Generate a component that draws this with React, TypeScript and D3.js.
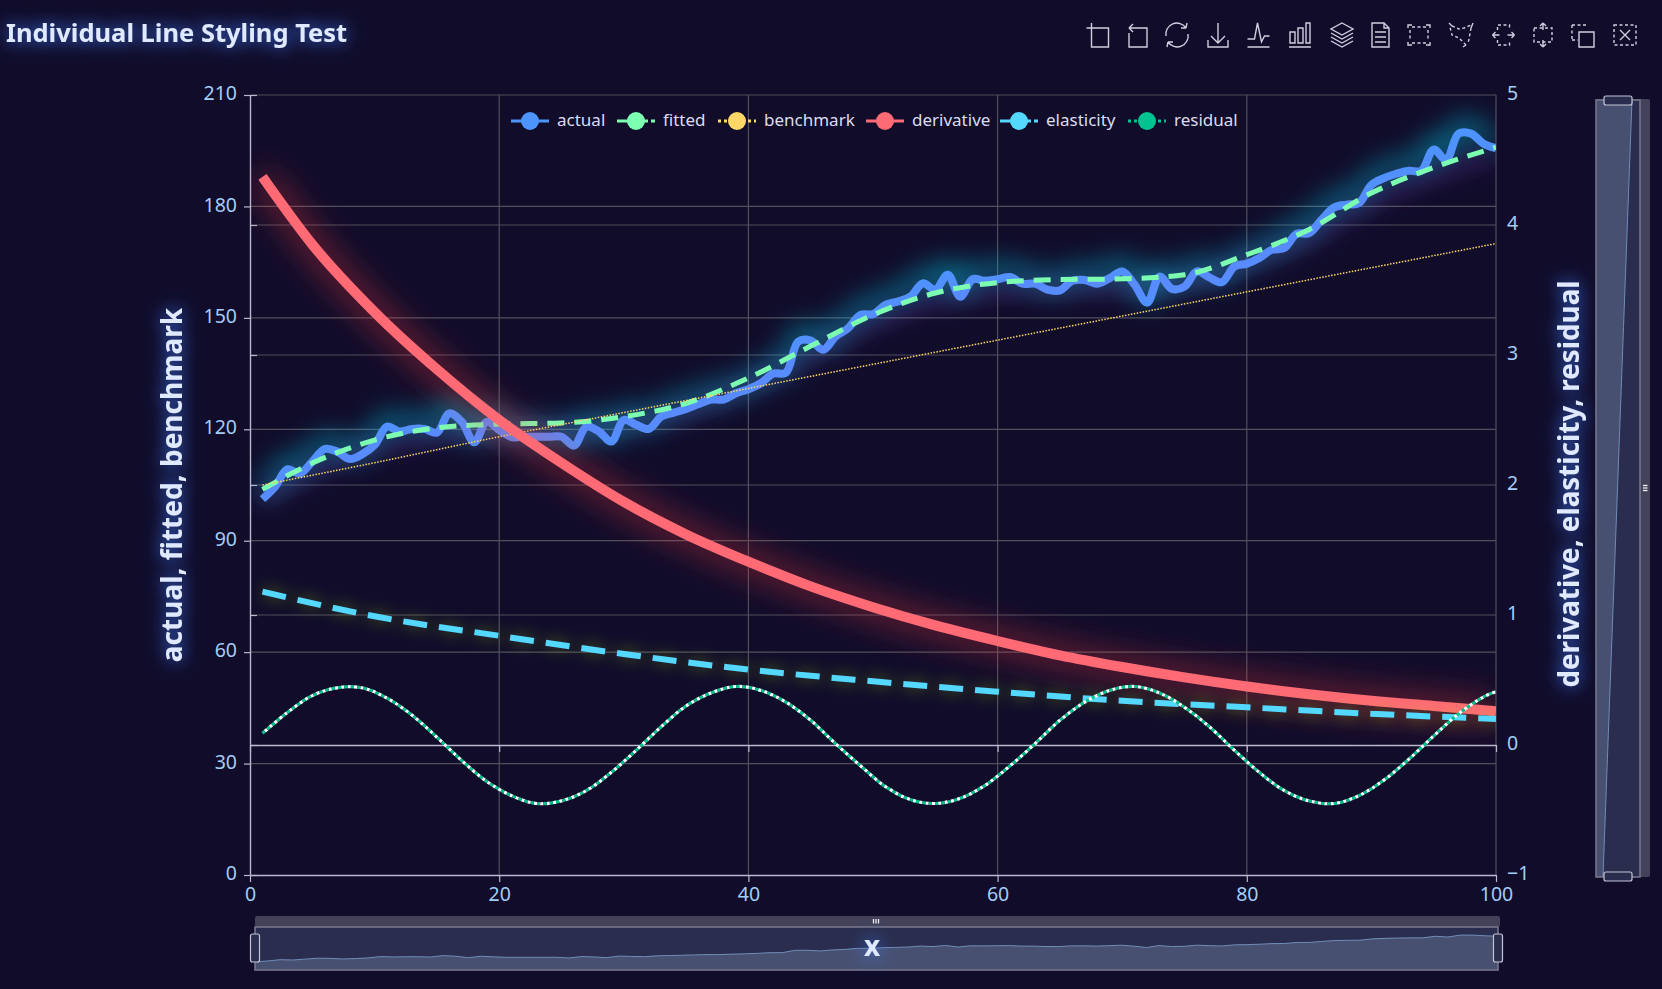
import * as d3 from 'd3';
import React, { useEffect, useRef } from 'react';

const seriesNames = ['actual', 'fitted', 'benchmark', 'derivative', 'elasticity', 'residual'];
const seriesColors = ['#4d94ff', '#7dffb2', '#ffd766', '#ff6b75', '#55d8fe', '#00c48f'];

const actualValues = [
	101.2, 104.5, 109.2, 108.1, 111.3, 114.7, 114, 112, 113.3, 115.8, 120.7, 119.4, 120.1, 120.1, 119.1, 124.3, 122,
	116.5, 122, 119.8, 117.9, 118, 118, 118, 118, 115.6, 120.7, 119.4, 116.7, 122.5, 121.2, 120.1, 123.4, 124.5, 125.5,
	126.8, 128, 128, 129.7, 130.8, 132.4, 135, 135.2, 143.6, 143.9, 141.4, 145, 147.2, 150.8, 151, 153.5, 154.4, 155.7,
	159.3, 157.6, 161.6, 155.7, 160.4, 160, 160.4, 161, 159.2, 159.2, 157.6, 157.4, 160, 160.2, 159.2, 160.7, 162.5,
	158.9, 154.1, 161.1, 157.8, 158.4, 162.5, 160.9, 159.6, 163.8, 164.6, 166.1, 168.3, 168.8, 172.6, 172.8, 176.4,
	179.7, 180.5, 180.9, 185.8, 187.6, 188.8, 189.6, 189.6, 195.3, 192.6, 199.6, 199.6, 196.9, 195.7,
];

const fittedX = [1, 5, 10, 15, 20, 25, 30, 35, 40, 45, 50, 55, 60, 65, 70, 75, 80, 85, 90, 95, 100];
const fittedValues = [
	103.8, 110.9, 117.1, 120.4, 121.4, 121.7, 123.4, 127, 133.8, 142.4, 150.8, 156.7, 159.5, 160.3, 160.5, 161.6, 167,
	173.8, 183.6, 190.5, 195.9,
];

const benchmarkX = [1, 10, 20, 30, 40, 50, 60, 70, 80, 90, 100];
const benchmarkValues = [105, 111, 118, 124.5, 131, 137.5, 144, 150.5, 157, 163.5, 170];

const derivativeX = [1, 5, 10, 15, 20, 25, 30, 35, 40, 45, 50, 55, 60, 65, 70, 75, 80, 85, 90, 95, 100];
const derivativeValues = [
	4.37, 3.85, 3.33, 2.89, 2.5, 2.17, 1.87, 1.62, 1.41, 1.22, 1.06, 0.92, 0.8, 0.69, 0.6, 0.52, 0.45, 0.39, 0.34, 0.3,
	0.26,
];

const elasticityX = [1, 10, 20, 30, 40, 50, 60, 70, 80, 90, 100];
const elasticityValues = [1.18, 0.99, 0.84, 0.7, 0.58, 0.49, 0.41, 0.34, 0.29, 0.24, 0.2];

const residualX = [
	1, 3, 5, 7, 9, 11, 13, 15, 17, 19, 21, 23, 25, 27, 29, 31, 33, 35, 37, 39, 41, 43, 45, 47, 49, 51, 53, 55, 57, 59, 61,
	63, 65, 67, 69, 71, 73, 75, 77, 79, 81, 83, 85, 87, 89, 91, 93, 95, 97, 99, 100,
];
const residualValues = [
	0.09, 0.25, 0.38, 0.44, 0.44, 0.36, 0.23, 0.06, -0.12, -0.28, -0.39, -0.45, -0.43, -0.35, -0.21, -0.04, 0.14, 0.3,
	0.4, 0.45, 0.42, 0.33, 0.19, 0.01, -0.16, -0.32, -0.42, -0.45, -0.41, -0.31, -0.16, 0.01, 0.19, 0.33, 0.42, 0.45, 0.4,
	0.29, 0.14, -0.04, -0.21, -0.35, -0.43, -0.45, -0.39, -0.27, -0.11, 0.07, 0.24, 0.37, 0.41,
];

const xTicks = [0, 20, 40, 60, 80, 100];
const leftTicks = [0, 30, 60, 90, 120, 150, 180, 210];
const rightTicks = [-1, 0, 1, 2, 3, 4, 5];

const legendStarts = [511, 617, 718, 866, 1000, 1128];

const toolIconX = [1098.5, 1138, 1177, 1218, 1258.5, 1300, 1342, 1380, 1419, 1461, 1503.5, 1543, 1583, 1625];
const toolIcons: [string, string?][] = [
	['M-12 -7H10V12H-7V-12'],
	['M-9 -2V12H9V-7H-9M-9 -7L-5 -11M-9 -7L-5 -3'],
	['M-11 1A11 11 0 0 1 9 -7M9 -7L10 -12M9 -7L4 -7M11 -1A11 11 0 0 1 -9 7M-9 7L-10 12M-9 7L-4 7'],
	['M0 -12V8M-7 1L0 8L7 1M-10 5V12H10V5'],
	['M-11 4H-4L-1 -12L3 7L6 1H11M-11 12H11'],
	['M-11 12H11M-10 -3H-5V8H-10ZM-2 -7H3V8H-2ZM6 -12H10V8H6Z'],
	['M0 -12L11 -6L0 0L-11 -6ZM-11 -2L0 4L11 -2M-11 2L0 8L11 2M-11 6L0 12L11 6'],
	['M-8 -12H4L9 -7V12H-8ZM4 -12V-7H9M-5 -3H6M-5 2H6M-5 7H6'],
	['M-11 -7V-10H-7M7 -10H11V-7M11 7V10H7M-7 10H-11V7', 'M-7 -8H7M-7 8H7M-9 -5V5M9 -5V5'],
	['M-12 -12L-9 -9M12 -12L10 -7M2 12L5 10', 'M-9 -9L-2 -6L3 -7L10 -10M10 -7L8 4L7 8M5 10L-2 3L-9 0L-11 -8'],
	['M-11 0L-8 -3M-11 0L-8 3M11 0L8 -3M11 0L8 3M-11 0H-4M4 0H11', 'M-6 -5V-10H6V-5M-6 5V10H6V5'],
	['M0 -12L-3 -9M0 -12L3 -9M0 12L-3 9M0 12L3 9M0 -12V-5M0 12V5', 'M-9 -7H9V7H-9Z'],
	['M-4 -3H11V12H-4Z', 'M-11 -10H5M-11 -10V5M-11 5H-5'],
	['M-5 -5L5 5M-5 5L5 -5', 'M-11 -10H11V10H-11Z'],
];

const font = "'Noto Sans', sans-serif";

const App = () => {
	const ref = useRef<SVGSVGElement>(null);

	useEffect(() => {
		const width = 1662;
		const height = 989;
		const plot = { left: 250, right: 1496, top: 95, bottom: 875 };

		const svg = d3.select(ref.current as SVGSVGElement);
		svg.selectAll('*').remove();

		const x = d3.scaleLinear().domain([0, 100]).range([plot.left, plot.right]);
		const yLeft = d3.scaleLinear().domain([0, 210]).range([plot.bottom, plot.top]);
		const yRight = d3.scaleLinear().domain([-1, 5]).range([plot.bottom, plot.top]);

		svg.append('rect').attr('width', width).attr('height', height).attr('fill', '#100c2a');

		const defs = svg.append('defs');
		const glow = (id: string, color: string, blur: number, opacity: number, dx = 0, dy = 0) => {
			const f = defs
				.append('filter')
				.attr('id', id)
				.attr('filterUnits', 'userSpaceOnUse')
				.attr('x', 0)
				.attr('y', 0)
				.attr('width', width)
				.attr('height', height);
			f.append('feDropShadow')
				.attr('dx', dx)
				.attr('dy', dy)
				.attr('stdDeviation', blur)
				.attr('flood-color', color)
				.attr('flood-opacity', opacity);
		};
		glow('glowActual', '#00d8f0', 14, 1, 0, -7);
		glow('glowFitted', '#b040f0', 11, 0.9, 0, 8);
		glow('glowDerivative', '#ff3a3a', 17, 0.95);
		glow('glowElasticity', '#a0e020', 8, 0.5);
		glow('glowText', '#3d7dff', 9, 1);

		defs.append('clipPath')
			.attr('id', 'plotClip')
			.append('rect')
			.attr('x', plot.left)
			.attr('y', plot.top)
			.attr('width', plot.right - plot.left)
			.attr('height', plot.bottom - plot.top);

		// split lines
		const grid = svg.append('g').attr('stroke', '#504f5c').attr('stroke-width', 1.2);
		grid.selectAll('.gl')
			.data(leftTicks.slice(1))
			.join('line')
			.attr('class', 'gl')
			.attr('x1', plot.left)
			.attr('x2', plot.right)
			.attr('y1', (d) => yLeft(d))
			.attr('y2', (d) => yLeft(d));
		grid.selectAll('.gr')
			.data(rightTicks.filter((d) => d > 0 && d < 5))
			.join('line')
			.attr('class', 'gr')
			.attr('x1', plot.left)
			.attr('x2', plot.right)
			.attr('y1', (d) => yRight(d))
			.attr('y2', (d) => yRight(d));
		grid.selectAll('.gx')
			.data(xTicks.slice(1))
			.join('line')
			.attr('class', 'gx')
			.attr('x1', (d) => x(d))
			.attr('x2', (d) => x(d))
			.attr('y1', plot.top)
			.attr('y2', plot.bottom);

		// axes
		const styleAxis = (g: any) => {
			g.selectAll('.domain').attr('stroke', '#b9b8ce').attr('stroke-width', 1.4);
			g.selectAll('.tick line').attr('stroke', '#b9b8ce').attr('stroke-width', 1.2);
			g.selectAll('text').attr('fill', '#a4cdf7').attr('font-size', 19.5).attr('font-family', font);
		};
		const liftLabels = (g: any) => g.selectAll('text').attr('dy', '0.24em');

		svg.append('g')
			.attr('transform', `translate(${plot.left},0)`)
			.call(d3.axisLeft(yLeft).tickValues(leftTicks).tickSize(6).tickPadding(7).tickSizeOuter(0))
			.call(styleAxis)
			.call(liftLabels);
		svg.append('g')
			.attr('transform', `translate(${plot.left},0)`)
			.call(d3.axisRight(yRight).tickValues(rightTicks).tickSize(7).tickFormat(() => '').tickSizeOuter(0))
			.call((g: any) => g.select('.domain').remove())
			.call(styleAxis);
		svg.append('g')
			.attr('transform', `translate(${plot.right},0)`)
			.call(d3.axisRight(yRight).tickValues(rightTicks).tickSize(0).tickPadding(11).tickFormat(d3.format('d') as any))
			.call((g: any) => g.select('.domain').remove())
			.call(styleAxis)
			.call(liftLabels);
		svg.append('g')
			.attr('transform', `translate(0,${yRight(0)})`)
			.call(d3.axisBottom(x).tickValues(xTicks).tickSize(7).tickFormat(() => '').tickSizeOuter(0))
			.call(styleAxis);
		svg.append('g')
			.attr('transform', `translate(0,${plot.bottom})`)
			.call(d3.axisBottom(x).tickValues(xTicks).tickSize(7).tickPadding(5).tickSizeOuter(0))
			.call(styleAxis);

		// series
		const lines = svg.append('g').attr('clip-path', 'url(#plotClip)').attr('fill', 'none');
		const toPoints = (xs: number[], ys: number[]) => xs.map((d, i) => [d, ys[i]] as [number, number]);
		const leftLine = d3
			.line<[number, number]>()
			.x((d) => x(d[0]))
			.y((d) => yLeft(d[1]))
			.curve(d3.curveMonotoneX);
		const rightLine = d3
			.line<[number, number]>()
			.x((d) => x(d[0]))
			.y((d) => yRight(d[1]))
			.curve(d3.curveMonotoneX);

		const actualX = actualValues.map((_, i) => i + 1);
		lines.append('path')
			.attr('d', leftLine.curve(d3.curveCatmullRom.alpha(0.5))(toPoints(actualX, actualValues)))
			.attr('stroke', seriesColors[0])
			.attr('stroke-width', 8)
			.attr('stroke-linejoin', 'round')
			.attr('filter', 'url(#glowActual)');
		leftLine.curve(d3.curveMonotoneX);
		lines.append('path')
			.attr('d', leftLine(toPoints(fittedX, fittedValues)))
			.attr('stroke', seriesColors[1])
			.attr('stroke-width', 5)
			.attr('stroke-dasharray', '17 10')
			.attr('filter', 'url(#glowFitted)');
		lines.append('path')
			.attr('d', leftLine(toPoints(benchmarkX, benchmarkValues)))
			.attr('stroke', seriesColors[2])
			.attr('stroke-width', 1.5)
			.attr('stroke-dasharray', '1.5 1.5');
		lines.append('path')
			.attr('d', rightLine(toPoints(derivativeX, derivativeValues)))
			.attr('stroke', seriesColors[3])
			.attr('stroke-width', 10)
			.attr('filter', 'url(#glowDerivative)');
		lines.append('path')
			.attr('d', rightLine(toPoints(elasticityX, elasticityValues)))
			.attr('stroke', seriesColors[4])
			.attr('stroke-width', 6)
			.attr('stroke-dasharray', '24 12')
			.attr('filter', 'url(#glowElasticity)');
		const residualPath = rightLine.curve(d3.curveCatmullRom.alpha(0.5))(toPoints(residualX, residualValues));
		lines.append('path')
			.attr('d', residualPath)
			.attr('stroke', '#ffffff')
			.attr('stroke-width', 3.2)
			.attr('stroke-dasharray', '3.2 3.2')
			.attr('stroke-dashoffset', 3.2);
		lines.append('path')
			.attr('d', residualPath)
			.attr('stroke', seriesColors[5])
			.attr('stroke-width', 3.2)
			.attr('stroke-dasharray', '3.2 3.2');

		// legend
		const legendDash = ['', '14 3', '3 3', '', '14 3', '3 3'];
		const legend = svg.append('g');
		seriesNames.forEach((name, i) => {
			const g = legend.append('g').attr('transform', `translate(${legendStarts[i]},121)`);
			g.append('line')
				.attr('x1', 0)
				.attr('x2', 38)
				.attr('stroke', seriesColors[i])
				.attr('stroke-width', 3)
				.attr('stroke-dasharray', legendDash[i]);
			g.append('circle').attr('cx', 19).attr('r', 9).attr('fill', seriesColors[i]);
			g.append('text')
				.attr('x', 46)
				.attr('dy', '0.3em')
				.attr('fill', '#dcdcf0')
				.attr('font-size', 17)
				.attr('font-family', font)
				.text(name);
		});

		// title and axis names, the filter sits on an untransformed group
		const boldText = (txt: string, tx: number, ty: number, size: number, rotate = 0) =>
			svg
				.append('g')
				.attr('filter', 'url(#glowText)')
				.append('text')
				.attr('transform', `translate(${tx},${ty}) rotate(${rotate})`)
				.attr('text-anchor', rotate || txt === 'x' ? 'middle' : 'start')
				.attr('dy', '0.35em')
				.attr('fill', '#dfe9ff')
				.attr('font-size', size)
				.attr('font-weight', 700)
				.attr('font-family', font)
				.text(txt);
		boldText('Individual Line Styling Test', 6, 33.5, 25.5);
		boldText('actual, fitted, benchmark', 172, 485, 28, -90);
		boldText('derivative, elasticity, residual', 1569, 484, 27.8, -90);

		// toolbox
		const tools = svg.append('g').attr('fill', 'none').attr('stroke', '#cfcfe0').attr('stroke-width', 1.4);
		toolIcons.forEach((icon, i) => {
			const g = tools.append('g').attr('transform', `translate(${toolIconX[i]},35)`);
			g.append('path').attr('d', icon[0]);
			if (icon[1]) g.append('path').attr('d', icon[1]).attr('stroke-dasharray', '3 2.5');
		});

		// horizontal slider
		const zoomH = svg.append('g');
		zoomH.append('rect').attr('x', 255).attr('y', 916).attr('width', 1245).attr('height', 11).attr('rx', 2).attr('fill', '#43425a');
		zoomH.append('rect').attr('x', 255).attr('y', 927).attr('width', 1243).attr('height', 43).attr('fill', '#2a2d4d');
		const sparkX = d3.scaleLinear().domain([1, 100]).range([255, 1498]);
		const sparkY = d3.scaleLinear().domain([75, 200]).range([969, 935]);
		const sparkArea = d3
			.area<[number, number]>()
			.x((d) => sparkX(d[0]))
			.y0(970)
			.y1((d) => sparkY(d[1]));
		const sparkLine = d3
			.line<[number, number]>()
			.x((d) => sparkX(d[0]))
			.y((d) => sparkY(d[1]));
		const actualPoints = toPoints(actualX, actualValues);
		zoomH.append('path').attr('d', sparkArea(actualPoints)).attr('fill', '#485071');
		zoomH.append('path').attr('d', sparkLine(actualPoints)).attr('fill', 'none').attr('stroke', '#6f8db8').attr('stroke-width', 1);
		zoomH.append('rect').attr('x', 255).attr('y', 927).attr('width', 1243).attr('height', 43).attr('fill', 'none').attr('stroke', '#76758a').attr('stroke-width', 1.6);
		[255, 1498].forEach((hx) => {
			zoomH.append('rect').attr('x', hx - 4.5).attr('y', 934).attr('width', 9).attr('height', 28).attr('rx', 2).attr('fill', '#2a2d4d').attr('stroke', '#c4c3d6').attr('stroke-width', 1.2);
		});
		[-2.5, 0, 2.5].forEach((o) => {
			zoomH.append('line').attr('x1', 876 + o).attr('x2', 876 + o).attr('y1', 919).attr('y2', 923.5).attr('stroke', '#eeeef5').attr('stroke-width', 1.3);
		});

		// x axis name sits on top of the slider
		boldText('x', 872, 946, 28);

		// vertical slider, its shadow series runs straight along the x values
		const zoomV = svg.append('g');
		zoomV.append('rect').attr('x', 1596).attr('y', 99).attr('width', 54).attr('height', 778).attr('rx', 2).attr('fill', '#43425a');
		zoomV.append('rect').attr('x', 1596).attr('y', 100).attr('width', 44).attr('height', 777).attr('fill', '#2a2d4d');
		const vertY = d3.scaleLinear().domain([1, 100]).range([877, 100]);
		const vertX = d3.scaleLinear().domain([1, 100]).range([1603, 1632]);
		const vertArea = d3
			.area<number>()
			.y((d) => vertY(d))
			.x0(1596)
			.x1((d) => vertX(d));
		const vertLine = d3
			.line<number>()
			.x((d) => vertX(d))
			.y((d) => vertY(d));
		zoomV.append('path').attr('d', vertArea(actualX)).attr('fill', '#485071');
		zoomV.append('path').attr('d', vertLine(actualX)).attr('fill', 'none').attr('stroke', '#6f8db8').attr('stroke-width', 1);
		zoomV.append('rect').attr('x', 1596).attr('y', 100).attr('width', 44).attr('height', 777).attr('fill', 'none').attr('stroke', '#76758a').attr('stroke-width', 1.6);
		[100.5, 876.5].forEach((hy) => {
			zoomV.append('rect').attr('x', 1604).attr('y', hy - 4.5).attr('width', 28).attr('height', 9).attr('rx', 2).attr('fill', '#2a2d4d').attr('stroke', '#c4c3d6').attr('stroke-width', 1.2);
		});
		[-2.5, 0, 2.5].forEach((o) => {
			zoomV.append('line').attr('x1', 1643).attr('x2', 1647.5).attr('y1', 488 + o).attr('y2', 488 + o).attr('stroke', '#eeeef5').attr('stroke-width', 1.3);
		});
	}, []);

	return <svg ref={ref} width={1662} height={989} style={{ position: 'absolute', left: 0, top: 0, display: 'block' }} />;
};

export default App;
